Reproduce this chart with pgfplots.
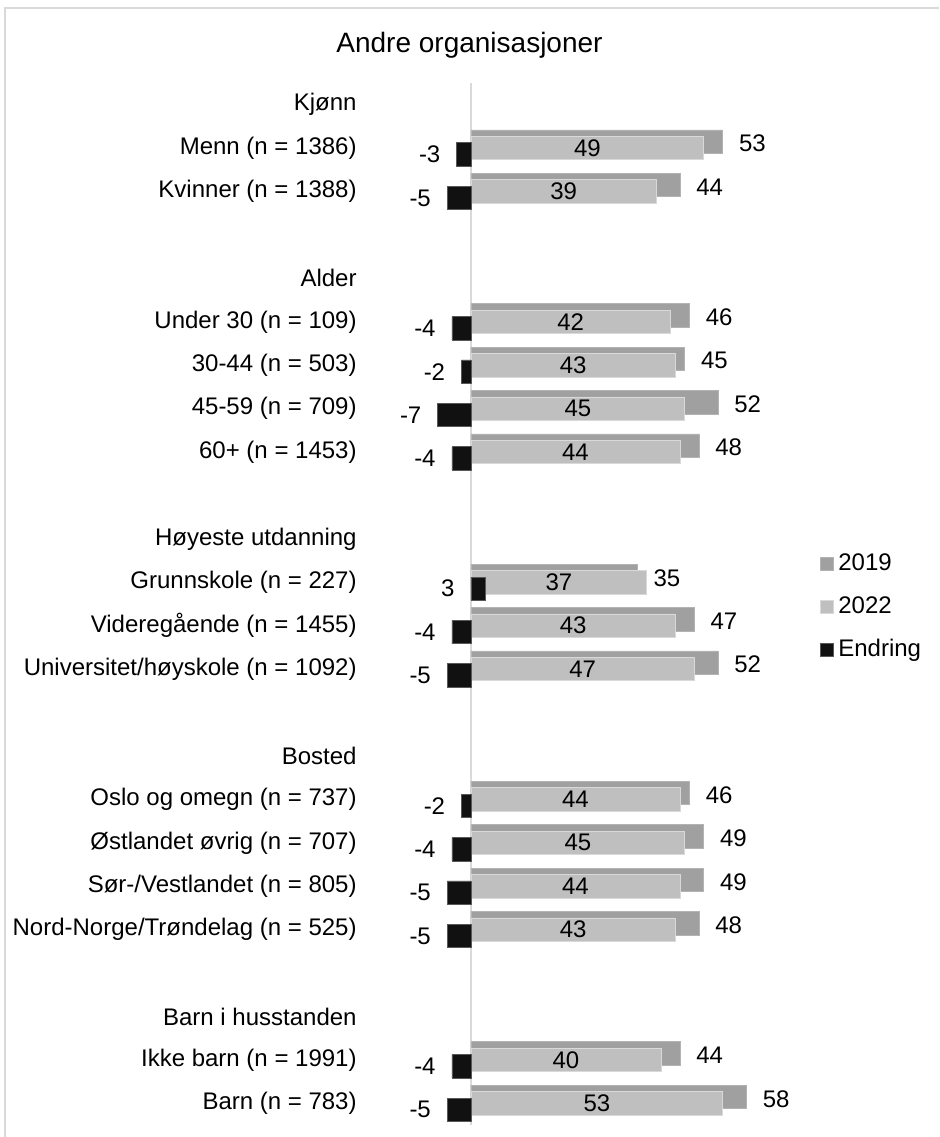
\documentclass[border=0pt]{standalone}
\usepackage{pgfplots}
\usepackage{pgfplotstable}
\pgfplotsset{compat=1.18}
\usepackage{fontspec}
\setmainfont{Liberation Sans}
\definecolor{c19}{HTML}{A0A0A0}
\definecolor{c22}{HTML}{BFBFBF}
\definecolor{cend}{HTML}{111111}
\definecolor{framec}{HTML}{D9D9D9}

\pgfplotstableread{
row v19 v22 end
1 53 49 -3
2 44 39 -5
5 46 42 -4
6 45 43 -2
7 52 45 -7
8 48 44 -4
11 35 37 3
12 47 43 -4
13 52 47 -5
16 46 44 -2
17 49 45 -4
18 49 44 -5
19 48 43 -5
22 44 40 -4
23 58 53 -5
}\data

\begin{document}
\begin{tikzpicture}[font=\fontsize{12}{14}\selectfont]
\path[use as bounding box] (0,0) rectangle (469.5pt,568.5pt);
\draw[framec, line width=1pt] (2.5pt,0) -- (2.5pt,564.5pt) -- (469.5pt,564.5pt);
\node[font=\fontsize{14}{16}\selectfont] at (234.75pt,546pt) {Andre organisasjoner};
\begin{axis}[
 at={(211.75pt,6pt)}, anchor=south west,
 scale only axis, width=213.75pt, height=521pt,
 xmin=-10, xmax=80, ymin=-0.5, ymax=23.5, y dir=reverse,
 axis lines*=left, axis line style={draw=none},
 xtick=\empty, ytick={0,...,23}, major tick length=0pt,
 yticklabels={Kjønn, Menn (n = 1386), Kvinner (n = 1388), , Alder, Under 30 (n = 109), 30-44 (n = 503), 45-59 (n = 709), 60+ (n = 1453), , Høyeste utdanning, Grunnskole (n = 227), Videregående (n = 1455), Universitet/høyskole (n = 1092), , Bosted, Oslo og omegn (n = 737), Østlandet øvrig (n = 707), Sør-/Vestlandet (n = 805), Nord-Norge/Trøndelag (n = 525), , Barn i husstanden, Ikke barn (n = 1991), Barn (n = 783)},
 yticklabel style={anchor=east, inner sep=0pt, xshift=-33.25pt, font=\fontsize{12}{14}\selectfont},
 xbar, bar width=0.54, clip=false,
 point meta=explicit symbolic,
 nodes near coords,
 legend style={draw=none, fill=none, at={(0.9275,0.553)}, anchor=north west, inner sep=0pt, row sep=6.5pt, nodes={inner ysep=1.5pt, inner xsep=2.2pt, text height=9pt, text depth=3pt}, font=\fontsize{12}{14}\selectfont},
 legend cell align=left,
 legend image code/.code={\fill[#1] (0pt,-3.2pt) rectangle (6.4pt,3.2pt);},
]
\draw[framec, line width=1pt] (axis cs:0,-0.5) -- (axis cs:0,23.5);
\addplot[fill=c19, draw=c19!80!white, bar shift=-0.148,
  nodes near coords style={anchor=west, inner sep=0pt, xshift=8pt, yshift=-1pt, text=black}]
  table[x=v19, y=row, meta=v19]{\data};
\addplot[fill=c22, draw=c22!60!white, bar shift=0,
  visualization depends on={rawx \as \rawx},
  nodes near coords style={anchor=center, inner sep=0pt, xshift={-1.1875pt*\rawx}, text=black}]
  table[x=v22, y=row, meta=v22]{\data};
\addplot[fill=cend, draw=cend!70!white, bar shift=0.148,
  visualization depends on={rawx \as \rawx},
  nodes near coords style={anchor=east, inner sep=0pt, xshift={-8pt-max(\rawx,0)*2.375pt}, text=black}]
  table[x=end, y=row, meta=end]{\data};
\legend{2019,2022,Endring}
\end{axis}
\end{tikzpicture}
\end{document}
